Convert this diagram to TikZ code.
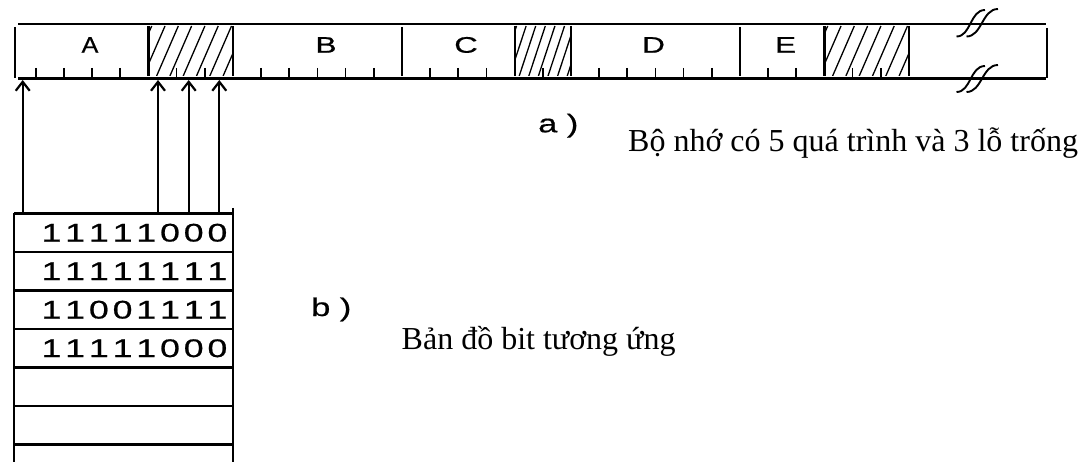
\documentclass[tikz,border=0pt]{standalone}
\usepackage{graphicx}
\usepackage{fontspec}
\setmainfont{Liberation Serif}
\newfontfamily\arialf[FakeBold=0.6]{Liberation Sans}
\usetikzlibrary{arrows.meta}
\newcommand{\wide}[2][1.35]{\scalebox{#1}[1]{#2}}
\begin{document}
\begin{tikzpicture}[x=1pt,y=-1pt,
  thickline/.style={line width=2.2pt},
  tickline/.style={line width=1.7pt},
  hatchline/.style={line width=1.3pt},
  brk/.style={line width=1.9pt},
  arr/.style={line width=2.2pt,-{Straight Barb[length=9pt,width=14pt,line width=2.2pt]}},
  seglabel/.style={font=\arialf\fontsize{22.5}{26}\selectfont,anchor=base,inner sep=0pt},
  bit/.style={font=\arialf\fontsize{25.5}{30}\selectfont,inner sep=0pt},
  sublabel/.style={font=\arialf\fontsize{25.5}{30}\selectfont,anchor=base west,inner sep=0pt},
  caption/.style={font=\fontsize{32}{36}\selectfont,anchor=base west,inner sep=0pt}]
\useasboundingbox (0,0) rectangle (1083,462);

% memory strip
\draw[thickline] (18,24) -- (1045.7,24);
\draw[thickline] (18,78.5) -- (1046,78.5);
\draw[thickline] (14.7,27) -- (14.7,78);
\draw[thickline] (1046.7,28) -- (1046.7,78);
\draw[thickline] (401.9,27) -- (401.9,76);
\draw[thickline] (740,27) -- (740,76);

% holes with hatching
\begin{scope}
  \clip (148.4,26) rectangle (233,76);
  \foreach \s in {0,...,9} \draw[hatchline] ({130+13.3*\s},76) -- ++(21.7,-50);
\end{scope}
\begin{scope}
  \clip (514.6,26) rectangle (571,76);
  \foreach \s in {0,...,9} \draw[hatchline] ({500+9.6*\s},76) -- ++(16.5,-50);
\end{scope}
\begin{scope}
  \clip (824.5,26) rectangle (909,76);
  \foreach \s in {0,...,9} \draw[hatchline] ({806+13.3*\s},76) -- ++(21.7,-50);
\end{scope}
\foreach \x in {148.4,233,514.6,571,824.5,909}
  \draw[thickline] (\x,26) -- (\x,76);

% ticks
\foreach \k in {1,2,3,4,6,7,9,10,11,12,13,15,16,17,19,21,22,23,24,25,27,28,30,31}
  \draw[tickline] ({7.53+28.17*\k},68) -- ++(0,10.5);

% break symbols
\draw[brk] (956.5,36.5) .. controls (971,36.5) and (970,10) .. (985,10);
\draw[brk] (966.5,36.5) .. controls (982,36.5) and (982,9) .. (998,9);
\draw[brk] (956.5,92) .. controls (971,92) and (970,66) .. (985,66);
\draw[brk] (966.5,92) .. controls (982,92) and (982,65) .. (998,65);

% segment labels
\node[seglabel] (lA) at (90,52.7) {\wide[1.12]{A}};
\node[seglabel] (lB) at (326,52.7) {\wide[1.4]{B}};
\node[seglabel] (lC) at (466,52.7) {\wide[1.45]{C}};
\node[seglabel] (lD) at (653.5,52.7) {\wide[1.4]{D}};
\node[seglabel] (lE) at (785.5,52.7) {\wide[1.4]{E}};

% bitmap table
\foreach \i in {0,...,6}
  \draw[thickline] (14,{213.5+38.5*\i}) -- (233.3,{213.5+38.5*\i});
\draw[thickline] (14,213.5) -- (14,462);
\draw[thickline] (233.3,208) -- (233.3,462);

\foreach \b [count=\i from 0] in {1,1,1,1,1,0,0,0}
  \node[bit] (r0d\i) at ({51.5+23.7*\i},232.75) {\wide[1.4]{\b}};
\foreach \b [count=\i from 0] in {1,1,1,1,1,1,1,1}
  \node[bit] (r1d\i) at ({51.5+23.7*\i},271.25) {\wide[1.4]{\b}};
\foreach \b [count=\i from 0] in {1,1,0,0,1,1,1,1}
  \node[bit] (r2d\i) at ({51.5+23.7*\i},309.75) {\wide[1.4]{\b}};
\foreach \b [count=\i from 0] in {1,1,1,1,1,0,0,0}
  \node[bit] (r3d\i) at ({51.5+23.7*\i},348.25) {\wide[1.4]{\b}};

% arrows from bitmap to memory
\coordinate (b1) at (22.7,213.5); \coordinate (t1) at (22.7,80);
\coordinate (b2) at (158,213.5);  \coordinate (t2) at (158,80);
\coordinate (b3) at (188.7,215);  \coordinate (t3) at (188.7,80);
\coordinate (b4) at (219.3,213.5); \coordinate (t4) at (219.3,80);
\draw[arr] (b1) -- (t1);
\draw[arr] (b2) -- (t2);
\draw[arr] (b3) -- (t3);
\draw[arr] (b4) -- (t4);

% captions
\node[sublabel] (la) at (538,132.3) {\wide{a )}};
\node[caption] (ca) at (628,151.7) {Bộ nhớ có 5 quá trình và 3 lỗ trống};
\node[sublabel] (lb) at (311,316) {\wide{b )}};
\node[caption] (cb) at (401.5,349.3) {Bản đồ bit tương ứng};
\end{tikzpicture}
\end{document}
